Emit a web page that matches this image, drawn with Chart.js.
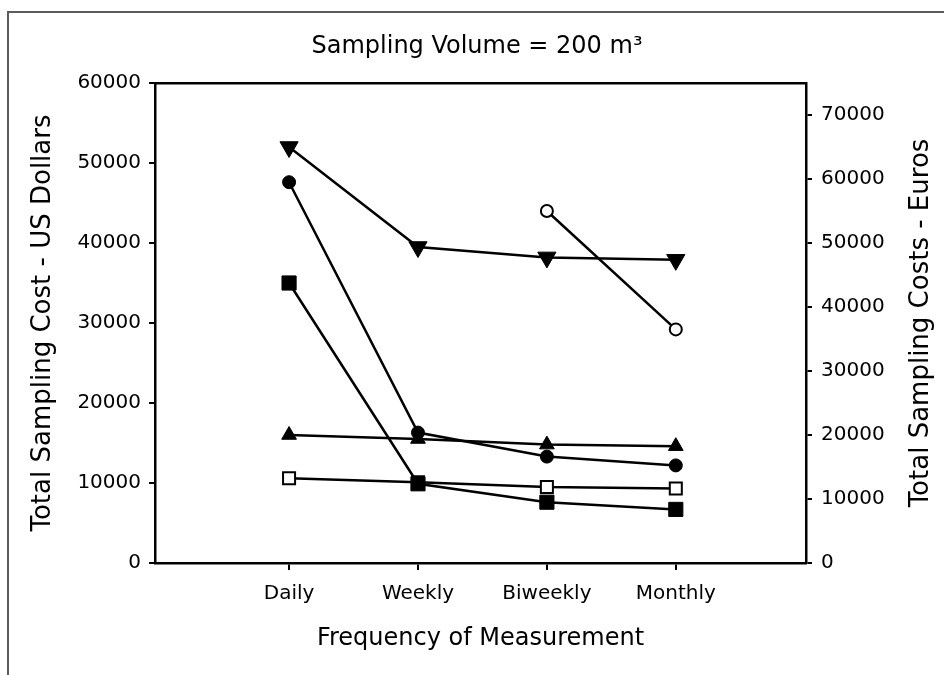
<!DOCTYPE html>
<html>
<head>
<meta charset="utf-8">
<script src="https://cdn.jsdelivr.net/npm/chart.js@4.4.1/dist/chart.umd.min.js"></script>
<style>
  html,body{margin:0;padding:0;background:#fff;}
  #wrap{position:relative;width:944px;height:675px;overflow:hidden;}
  #frame{position:absolute;left:7px;top:11px;width:960px;height:700px;border-left:2px solid #5c5c5c;border-top:2px solid #5c5c5c;}
  canvas{position:absolute;left:0;top:0;}
</style>
</head>
<body>
<div id="wrap"><div id="frame"></div><canvas id="chart" width="944" height="675"></canvas></div>
<script>
// categories + tick labels
const categories = ['Daily', 'Weekly', 'Biweekly', 'Monthly'];
const usdTicks = [0, 10000, 20000, 30000, 40000, 50000, 60000];
const euroTicks = [0, 10000, 20000, 30000, 40000, 50000, 60000, 70000];

// series values (US dollars)
const invTriangle = [52000, 39500, 38200, 37900];
const fillCircle = [47600, 16300, 13300, 12200];
const fillSquare = [35000, 9900, 7600, 6700];
const fillTriangle = [16000, 15500, 14800, 14600];
const openSquare = [10600, 10100, 9500, 9300];
const openCircle = [null, null, 44000, 29200];

const INK = '#000';
const FONT = 'DejaVu Sans';

function series(label, values, style){
  return Object.assign({
    label,
    data: values.map((y, i) => ({ x: i, y })),
    borderColor: INK,
    borderWidth: 2.5,
    tension: 0,
    pointBorderColor: INK,
    pointBorderWidth: 1,
    pointBackgroundColor: INK
  }, style);
}

// right-hand title reads bottom-to-top, Chart.js would rotate it the other way
const euroTitle = {
  id: 'euroTitle',
  afterDraw(chart){
    const { ctx, chartArea } = chart;
    ctx.save();
    ctx.translate(921, (chartArea.top + chartArea.bottom) / 2);
    ctx.rotate(-Math.PI / 2);
    ctx.font = '26px "' + FONT + '"';
    ctx.fillStyle = INK;
    ctx.textAlign = 'center';
    ctx.textBaseline = 'middle';
    ctx.fillText('Total Sampling Costs - Euros', 0, 0);
    ctx.restore();
  }
};

const axisLine = { color: INK, width: 2.5 };
const tickMarks = { drawOnChartArea: false, drawTicks: true, tickLength: 6, color: INK, lineWidth: 2 };

new Chart(document.getElementById('chart'), {
  type: 'line',
  data: {
    datasets: [
      series('Inverted triangle', invTriangle, { pointStyle: 'triangle', pointRotation: 180, pointRadius: 10.5 }),
      series('Filled circle', fillCircle, { pointStyle: 'circle', pointRadius: 6.5 }),
      series('Filled square', fillSquare, { pointStyle: 'rect', pointRadius: 10 }),
      series('Filled triangle', fillTriangle, { pointStyle: 'triangle', pointRadius: 8.5 }),
      series('Open square', openSquare, { pointStyle: 'rect', pointRadius: 8.5, pointBackgroundColor: '#fff', pointBorderWidth: 2 }),
      series('Open circle', openCircle, { pointStyle: 'circle', pointRadius: 6, pointBackgroundColor: '#fff', pointBorderWidth: 2 })
    ]
  },
  options: {
    responsive: false,
    animation: false,
    layout: { padding: { left: 10, right: 0, top: 0, bottom: 0 } },
    plugins: {
      legend: { display: false },
      tooltip: { enabled: false },
      title: {
        display: true,
        text: 'Sampling Volume = 200 m\u00B3',
        color: INK,
        font: { family: FONT, size: 24, weight: 'normal' },
        padding: { top: 32.6, bottom: 21.6 }
      }
    },
    scales: {
      x: {
        type: 'linear', position: 'bottom', min: -1.04, max: 4.01,
        afterBuildTicks: s => { s.ticks = categories.map((c, i) => ({ value: i })); },
        ticks: { callback: v => categories[v], color: INK, font: { family: FONT, size: 20 }, padding: 12, maxRotation: 0, autoSkip: false },
        grid: Object.assign({}, tickMarks, { tickLength: 7 }),
        border: axisLine,
        title: { display: true, text: 'Frequency of Measurement', color: INK, font: { family: FONT, size: 24 }, padding: { top: 0, bottom: 22 } },
        afterFit: s => { s.height = 112; }
      },
      x2: {
        type: 'linear', position: 'top', min: -1.04, max: 4.01,
        ticks: { display: false },
        grid: { drawOnChartArea: false, drawTicks: false },
        border: axisLine,
        afterFit: s => { s.height = 0; }
      },
      y: {
        position: 'left', min: 0, max: 60000,
        afterBuildTicks: s => { s.ticks = usdTicks.map(v => ({ value: v })); },
        ticks: { callback: v => String(v), color: INK, font: { family: FONT, size: 20 }, padding: 8 },
        grid: tickMarks,
        border: axisLine,
        title: { display: true, text: 'Total Sampling Cost - US Dollars', color: INK, font: { family: FONT, size: 26 }, padding: { top: 18, bottom: 0 } },
        afterFit: s => { s.width = 145; }
      },
      y2: {
        position: 'right', min: 0, max: 75000,
        afterBuildTicks: s => { s.ticks = euroTicks.map(v => ({ value: v })); },
        ticks: { callback: v => String(v), color: INK, font: { family: FONT, size: 20 }, padding: 9 },
        grid: tickMarks,
        border: axisLine,
        afterFit: s => { s.width = 138; }
      }
    }
  },
  plugins: [euroTitle]
});
</script>
</body>
</html>
